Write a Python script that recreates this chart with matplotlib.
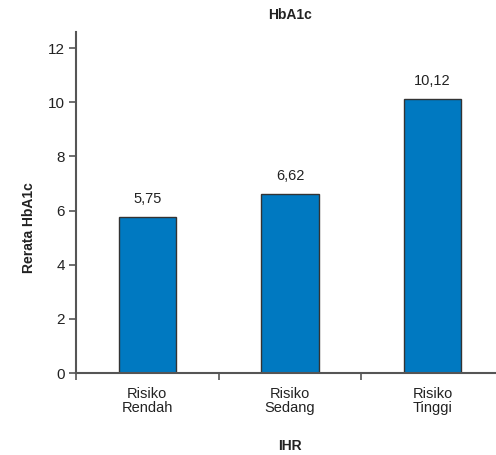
import matplotlib.pyplot as plt
import numpy as np

plt.rcParams['font.family'] = ['Liberation Sans', 'DejaVu Sans']

kategori = ['Risiko\nRendah', 'Risiko\nSedang', 'Risiko\nTinggi']
rerata = [5.75, 6.62, 10.12]
label_nilai = ['5,75', '6,62', '10,12']
yticks = [0, 2, 4, 6, 8, 10, 12]

fig = plt.figure(figsize=(4.96, 4.55), dpi=100)
ax = fig.add_axes([0.1532, 0.1802, 0.8629, 0.7495])

x = np.arange(len(kategori))
bars = ax.bar(x, rerata, width=0.4, color='#0079c1', edgecolor='#333333', linewidth=1.0, zorder=2)

for xi, v, s in zip(x, rerata, label_nilai):
    ax.annotate(s, (xi, v), xytext=(0, 8), textcoords='offset points',
                ha='center', va='bottom', fontsize=10.5, color='#222222')

ax.set_xlim(-0.5, 2.5)
ax.set_ylim(0, 12.6)
ax.set_yticks(yticks)
ax.set_yticklabels([str(t) for t in yticks], fontsize=11, color='#222222')

# ticks sit between categories, labels centred under each bar
ax.set_xticks([-0.5, 0.5, 1.5])
ax.set_xticklabels([])
ax.set_xticks(x, minor=True)
ax.set_xticklabels(kategori, minor=True, fontsize=10.5, color='#222222', linespacing=1.05)
ax.tick_params(axis='x', which='minor', length=0, pad=10)
ax.tick_params(axis='x', which='major', length=5, width=1.2, color='#555555', direction='out')
ax.tick_params(axis='y', length=5, width=1.2, color='#555555', direction='out', pad=3)

for side in ['top', 'right']:
    ax.spines[side].set_visible(False)
for side in ['left', 'bottom']:
    ax.spines[side].set_color('#555555')
    ax.spines[side].set_linewidth(1.5)

fig.text(0.5847, 0.967, 'HbA1c', ha='center', va='center', fontsize=10, fontweight='bold', color='#222222')
fig.text(0.5847, 0.020, 'IHR', ha='center', va='center', fontsize=10, fontweight='bold', color='#222222')
fig.text(0.058, 0.5, 'Rerata HbA1c', ha='center', va='center', rotation=90,
         fontsize=10, fontweight='bold', color='#222222')

fig.savefig('out.png', dpi=100)
